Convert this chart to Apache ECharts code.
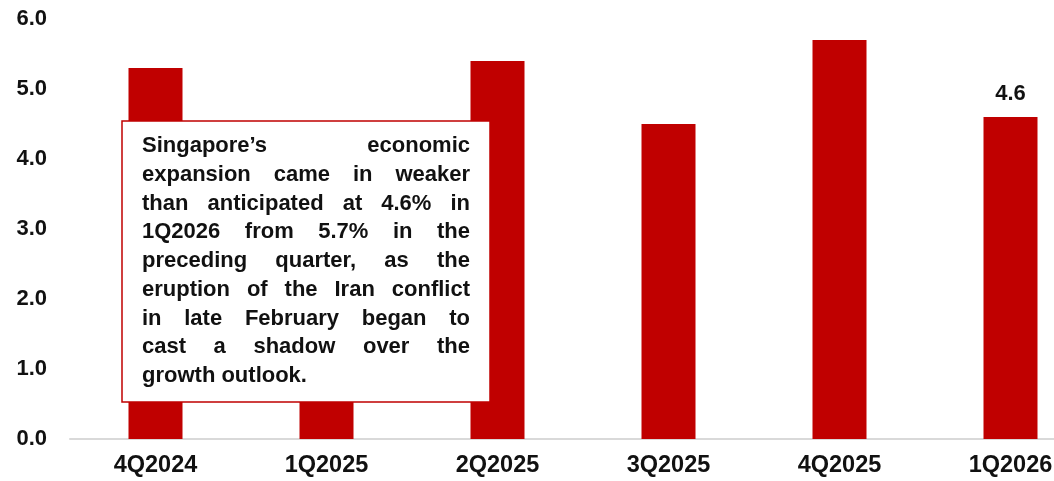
<!DOCTYPE html>
<html>
<head>
<meta charset="utf-8">
<script src="https://cdn.jsdelivr.net/npm/echarts@6/dist/echarts.min.js"></script>
<style>
  html, body { margin: 0; padding: 0; background: #fff; }
  #chart { width: 1054px; height: 481px; }
</style>
</head>
<body>
<div id="chart"></div>
<script>
// Singapore real GDP growth, % y/y
const quarters = ['4Q2024', '1Q2025', '2Q2025', '3Q2025', '4Q2025', '1Q2026'];
const gdpGrowth = [5.3, 4.1, 5.4, 4.5, 5.7, 4.6];
const labelledQuarter = '1Q2026';
const noteLines = [
  "Singapore\u2019s economic",
  "expansion came in weaker",
  "than anticipated at 4.6% in",
  "1Q2026 from 5.7% in the",
  "preceding quarter, as the",
  "eruption of the Iran conflict",
  "in late February began to",
  "cast a shadow over the",
  "growth outlook."
];

const FONT = "'Liberation Sans', Arial, sans-serif";
const RED = '#C00000';

// Build justified note text: each word is its own text element spread across the line width
function buildNote(x, y, w, h, padL, padR, padT, lineH, fontSize) {
  const ctx = document.createElement('canvas').getContext('2d');
  ctx.font = 'bold ' + fontSize + 'px ' + FONT;
  const inner = w - padL - padR;
  const children = [{
    type: 'rect',
    z: 100,
    shape: { x: x, y: y, width: w, height: h },
    style: { fill: '#fff', stroke: RED, lineWidth: 1.5 }
  }];
  noteLines.forEach((line, i) => {
    const words = line.split(' ');
    const widths = words.map(wd => ctx.measureText(wd).width);
    const total = widths.reduce((a, b) => a + b, 0);
    const last = i === noteLines.length - 1;
    const gap = (!last && words.length > 1) ? (inner - total) / (words.length - 1) : ctx.measureText(' ').width;
    let cx = x + padL;
    words.forEach((wd, k) => {
      children.push({
        type: 'text',
        z: 101,
        x: cx,
        y: y + padT + i * lineH,
        style: {
          text: wd,
          font: 'bold ' + fontSize + 'px ' + FONT,
          fill: '#111',
          verticalAlign: 'middle'
        }
      });
      cx += widths[k] + gap;
    });
  });
  return { type: 'group', z: 100, children: children };
}

const chart = echarts.init(document.getElementById('chart'));
chart.setOption({
  animation: false,
  backgroundColor: '#fff',
  grid: { left: 70, top: 19, bottom: 42, width: 1026, outerBoundsMode: 'none', containLabel: false },
  xAxis: {
    type: 'category',
    data: quarters,
    axisLine: { lineStyle: { color: '#d9d9d9', width: 2 } },
    axisTick: { show: false },
    axisLabel: { color: '#111', fontFamily: FONT, fontWeight: 'bold', fontSize: 23.5, margin: 15 }
  },
  yAxis: {
    type: 'value',
    min: 0, max: 6, interval: 1,
    splitLine: { show: false },
    axisLine: { show: false },
    axisTick: { show: false },
    axisLabel: {
      color: '#111', fontFamily: FONT, fontWeight: 'bold', fontSize: 22, margin: 23,
      formatter: v => v.toFixed(1)
    }
  },
  series: [{
    type: 'bar',
    barWidth: 54,
    itemStyle: { color: RED },
    data: gdpGrowth.map((v, i) => ({
      value: v,
      label: {
        show: quarters[i] === labelledQuarter,
        position: 'top',
        distance: 12,
        color: '#111',
        fontFamily: FONT,
        fontWeight: 'bold',
        fontSize: 22,
        formatter: p => p.value.toFixed(1)
      }
    }))
  }],
  graphic: [buildNote(122, 121, 368, 281, 20, 20, 25, 28.75, 22)]
});
</script>
</body>
</html>
